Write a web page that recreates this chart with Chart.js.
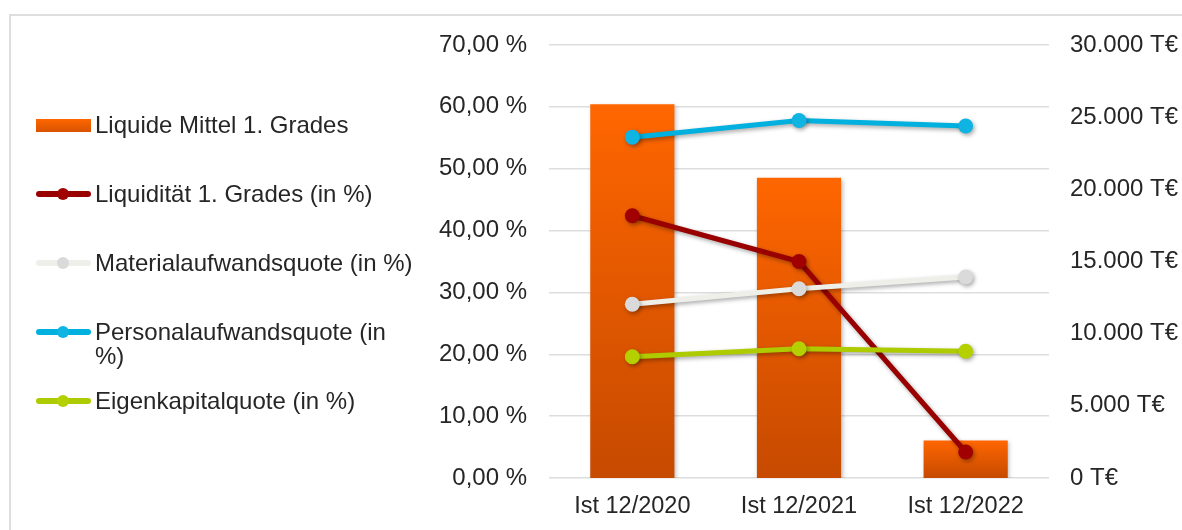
<!DOCTYPE html>
<html>
<head>
<meta charset="utf-8">
<script src="https://cdn.jsdelivr.net/npm/chart.js@4/dist/chart.umd.min.js"></script>
<style>
  html, body { margin: 0; padding: 0; background: #fff; }
  #wrap { position: relative; width: 1182px; height: 530px; overflow: hidden; font-family: "Liberation Sans", Arial, sans-serif; }
  #frame { position: absolute; left: 9px; top: 14px; width: 1300px; height: 700px; border: 2px solid #DEDEDE; box-sizing: border-box; }
  canvas { position: absolute; left: 0; top: 0; }
  #legend { position: absolute; left: 0; top: 0; width: 540px; height: 530px; }
  .item { position: absolute; left: 0; width: 540px; }
  .sw { position: absolute; left: 36px; width: 55px; }
  .txt { position: absolute; left: 95px; width: 321px; font-size: 24px; line-height: 24px; color: #262626; }
</style>
</head>
<body>
<div id="wrap">
  <div id="frame"></div>
  <canvas id="c" width="1182" height="530"></canvas>
  <div id="legend"></div>
</div>
<script>
// ---- data ----
const categories = ["Ist 12/2020", "Ist 12/2021", "Ist 12/2022"];
const liquideMittel = [25900, 20800, 2600];          // T€ (right axis)
const liquiditaet = [42.4, 35.0, 4.2];               // %
const materialquote = [28.1, 30.6, 32.5];            // %
const personalquote = [55.1, 57.8, 56.9];            // %
const eigenkapitalquote = [19.6, 20.9, 20.5];        // %
const seriesNames = ["Liquide Mittel 1. Grades", "Liquidität 1. Grades (in %)", "Materialaufwandsquote (in %)", "Personalaufwandsquote (in %)", "Eigenkapitalquote (in %)"];

const fontFamily = '"Liberation Sans", Arial, sans-serif';
const textColor = '#262626';

function barGradient(c) {
  const chart = c.chart;
  if (!chart.chartArea || !chart.scales.y1) return '#FF6600';
  const sc = chart.scales.y1;
  const top = sc.getPixelForValue(c.raw);
  const bot = sc.getPixelForValue(0);
  if (!isFinite(top) || !isFinite(bot) || top === bot) return '#FF6600';
  const g = chart.ctx.createLinearGradient(0, top, 0, bot);
  g.addColorStop(0, '#FF6600');
  g.addColorStop(1, '#C64A00');
  return g;
}

function lineDs(label, data, color, pointColor, order) {
  return {
    type: 'line', label, data, yAxisID: 'y', order,
    borderColor: color, borderWidth: 5,
    pointBackgroundColor: pointColor, pointBorderColor: pointColor,
    pointRadius: 7.5, pointHoverRadius: 7.5, pointBorderWidth: 0,
    tension: 0, fill: false
  };
}

const shadowPlugin = {
  id: 'shadow',
  beforeDatasetDraw(chart, args) {
    const ctx = chart.ctx;
    ctx.save();
    const isBar = args.meta.type === 'bar';
    ctx.shadowColor = isBar ? 'rgba(0,0,0,0.25)' : 'rgba(0,0,0,0.35)';
    ctx.shadowBlur = 4;
    ctx.shadowOffsetX = 1.5;
    ctx.shadowOffsetY = 2;
  },
  afterDatasetDraw(chart) { chart.ctx.restore(); }
};

const chart = new Chart(document.getElementById('c'), {
  data: {
    labels: categories,
    datasets: [
      { type: 'bar', label: seriesNames[0], data: liquideMittel, yAxisID: 'y1', order: 10,
        backgroundColor: barGradient, borderWidth: 0, barPercentage: 0.505, categoryPercentage: 1.0 },
      lineDs(seriesNames[1], liquiditaet, '#990000', '#A00000', 4),
      lineDs(seriesNames[2], materialquote, '#EFEFEA', '#DADADA', 3),
      lineDs(seriesNames[3], personalquote, '#00B0DE', '#10B4E2', 2),
      lineDs(seriesNames[4], eigenkapitalquote, '#AECB00', '#B4D000', 1)
    ]
  },
  options: {
    responsive: false,
    animation: false,
    layout: { padding: { top: 45, left: 0, right: 0, bottom: 0 } },
    plugins: { legend: { display: false }, tooltip: { enabled: false } },
    scales: {
      x: {
        offset: true,
        grid: { display: false, drawTicks: false },
        border: { display: false },
        ticks: { color: textColor, font: { family: fontFamily, size: 23.5 }, padding: 14 },
        afterFit(s) { s.height = 52; }
      },
      y: {
        position: 'left', min: 0, max: 70,
        grid: { color: '#DDDDDD', lineWidth: 1.5, drawTicks: false },
        border: { display: false },
        ticks: { stepSize: 10, padding: 22, color: textColor, font: { family: fontFamily, size: 24 },
          callback: v => v.toFixed(2).replace('.', ',') + ' %' },
        afterFit(s) { s.width = 549; }
      },
      y1: {
        position: 'right', min: 0, max: 30000,
        grid: { display: false, drawTicks: false },
        border: { display: false },
        ticks: { stepSize: 5000, padding: 21, color: textColor, font: { family: fontFamily, size: 24 },
          callback: v => (v === 0 ? '0' : v.toLocaleString('de-DE')) + ' T€' },
        afterFit(s) { s.width = 133; }
      }
    }
  },
  plugins: [shadowPlugin]
});

// ---- HTML legend built from the datasets ----
const legend = document.getElementById('legend');
const centers = [125, 194, 263, 332, 401];
chart.data.datasets.forEach((ds, i) => {
  const item = document.createElement('div');
  item.className = 'item';
  item.style.top = (centers[i] - 12) + 'px';
  const sw = document.createElement('div');
  sw.className = 'sw';
  if (ds.type === 'bar') {
    sw.style.top = '6px'; sw.style.height = '13px';
    sw.style.background = 'linear-gradient(#FF6600, #D85300)';
  } else {
    sw.style.top = '9px'; sw.style.height = '6px'; sw.style.borderRadius = '3px';
    sw.style.background = ds.borderColor;
    const dot = document.createElement('div');
    dot.style.cssText = 'position:absolute;left:21px;top:-3px;width:12px;height:12px;border-radius:6px;background:' + ds.pointBackgroundColor;
    sw.appendChild(dot);
  }
  const t = document.createElement('div');
  t.className = 'txt';
  t.style.top = '0px';
  t.textContent = ds.label;
  item.appendChild(sw);
  item.appendChild(t);
  legend.appendChild(item);
});
</script>
</body>
</html>
